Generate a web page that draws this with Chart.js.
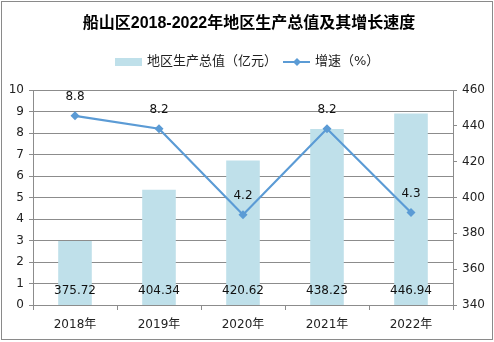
<!DOCTYPE html>
<html>
<head>
<meta charset="utf-8">
<script src="https://cdn.jsdelivr.net/npm/chart.js@4/dist/chart.umd.min.js"></script>
<style>
  html, body { margin:0; padding:0; background:#fff; }
  #wrap { width:494px; height:342px; position:relative; }
</style>
</head>
<body>
<div id="wrap"><canvas id="c" width="494" height="342"></canvas></div>
<script>
// 船山区 地区生产总值及增速
const YEARS  = ['2018年','2019年','2020年','2021年','2022年'];
const GDP    = [375.72, 404.34, 420.62, 438.23, 446.94];   // 亿元
const GROWTH = [8.8, 8.2, 4.2, 8.2, 4.3];                 // %
const TITLE  = '船山区2018-2022年地区生产总值及其增长速度';
const LEGEND = ['地区生产总值（亿元）', '增速（%）'];

const FONT   = "'DejaVu Sans','Noto Sans CJK SC',sans-serif";
const BAR_C  = '#bfe0ea';
const LINE_C = '#5b9bd5';
const GRID_C = '#8c8c8c';

// 标题、图例、数值标签、边框
const decor = {
  id: 'decor',
  afterDraw(chart) {
    const ctx = chart.ctx;
    ctx.save();
    ctx.strokeStyle = '#8a8a8a'; ctx.lineWidth = 1;
    ctx.strokeRect(1.5, 1.5, 491, 338);

    ctx.fillStyle = '#000';
    ctx.textAlign = 'center'; ctx.textBaseline = 'middle';
    ctx.font = "bold 16px 'Liberation Sans','Noto Sans CJK SC',sans-serif";
    ctx.fillText(TITLE, 249, 24);

    // legend
    ctx.font = "13px " + FONT;
    ctx.textAlign = 'left';
    ctx.fillStyle = BAR_C;
    ctx.fillRect(115, 58, 27, 8);
    ctx.fillStyle = '#222';
    ctx.fillText(LEGEND[0], 147, 62);
    ctx.strokeStyle = LINE_C; ctx.lineWidth = 2;
    ctx.beginPath(); ctx.moveTo(283, 62); ctx.lineTo(310, 62); ctx.stroke();
    ctx.fillStyle = LINE_C;
    ctx.beginPath();
    ctx.moveTo(297, 58); ctx.lineTo(301, 62); ctx.lineTo(297, 66); ctx.lineTo(293, 62);
    ctx.closePath(); ctx.fill();
    ctx.fillStyle = '#222';
    ctx.fillText(LEGEND[1], 315, 62);
    ctx.restore();
  },
  afterDatasetsDraw(chart) {
    const ctx = chart.ctx;
    ctx.save();
    ctx.font = "12px " + FONT;
    ctx.fillStyle = '#111';
    ctx.textAlign = 'center'; ctx.textBaseline = 'middle';
    const bars = chart.getDatasetMeta(1).data;
    bars.forEach((b, i) => ctx.fillText(GDP[i].toFixed(2), b.x, chart.chartArea.bottom - 14));
    const pts = chart.getDatasetMeta(0).data;
    pts.forEach((p, i) => ctx.fillText(GROWTH[i].toFixed(1), p.x, p.y - 19));
    ctx.restore();
  }
};

new Chart(document.getElementById('c'), {
  type: 'bar',
  data: {
    labels: YEARS,
    datasets: [
      {
        type: 'line', label: LEGEND[1], data: GROWTH, yAxisID: 'y', order: 0,
        borderColor: LINE_C, backgroundColor: LINE_C, borderWidth: 2.2,
        pointStyle: 'rectRot', pointRadius: 4.5, pointBorderWidth: 0, tension: 0
      },
      {
        type: 'bar', label: LEGEND[0], data: GDP, yAxisID: 'y1', order: 1,
        backgroundColor: BAR_C, barPercentage: 0.4, categoryPercentage: 1
      }
    ]
  },
  options: {
    responsive: false, animation: false,
    layout: { padding: { top: 90, left: 0, right: 0, bottom: 0 } },
    plugins: { legend: { display: false }, title: { display: false }, tooltip: { enabled: false } },
    scales: {
      x: {
        afterFit: s => { s.height = 37; },
        grid: { offset: true, drawOnChartArea: false, color: GRID_C, tickLength: 5 },
        border: { color: GRID_C },
        ticks: { color: '#222', font: { family: FONT, size: 12 }, padding: 8 }
      },
      y: {
        position: 'left', min: 0, max: 10,
        afterFit: s => { s.width = 33; },
        grid: { color: GRID_C, tickLength: 4 },
        border: { color: GRID_C },
        ticks: { stepSize: 1, color: '#222', font: { family: FONT, size: 12 }, padding: 5 }
      },
      y1: {
        position: 'right', min: 340, max: 460,
        afterFit: s => { s.width = 41; },
        grid: { drawOnChartArea: false, color: GRID_C, tickLength: 4 },
        border: { color: GRID_C },
        ticks: { stepSize: 20, color: '#222', font: { family: FONT, size: 12 }, padding: 5 }
      }
    }
  },
  plugins: [decor]
});
</script>
</body>
</html>
